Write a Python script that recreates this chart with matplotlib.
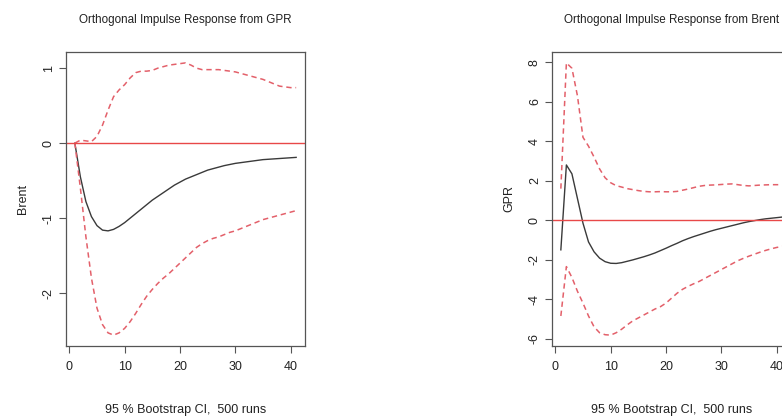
import matplotlib
matplotlib.use("Agg")
import matplotlib.pyplot as plt
import numpy as np

plt.rcParams['font.family'] = ['Liberation Sans', 'DejaVu Sans']

horizon = list(range(1, 42))

# Response of Brent to GPR shock
brent_irf = [0, -0.45, -0.78, -0.98, -1.10, -1.16, -1.17, -1.15, -1.11, -1.06,
             -1.00, -0.94, -0.88, -0.82, -0.76, -0.71, -0.66, -0.61, -0.56, -0.52,
             -0.48, -0.45, -0.42, -0.39, -0.36, -0.34, -0.32, -0.30, -0.285, -0.27,
             -0.26, -0.25, -0.24, -0.23, -0.22, -0.215, -0.21, -0.205, -0.20, -0.195, -0.19]
brent_upper = [0, 0.04, 0.03, 0.02, 0.09, 0.24, 0.44, 0.62, 0.71, 0.78,
               0.87, 0.94, 0.96, 0.96, 0.97, 1.00, 1.02, 1.04, 1.05, 1.06,
               1.07, 1.04, 1.00, 0.98, 0.98, 0.98, 0.98, 0.97, 0.96, 0.95,
               0.93, 0.91, 0.89, 0.87, 0.85, 0.82, 0.79, 0.76, 0.75, 0.74, 0.74]
brent_lower = [0, -0.6, -1.25, -1.8, -2.2, -2.42, -2.53, -2.56, -2.53, -2.47,
               -2.38, -2.27, -2.15, -2.04, -1.95, -1.87, -1.80, -1.74, -1.67, -1.60,
               -1.53, -1.46, -1.39, -1.34, -1.30, -1.27, -1.25, -1.22, -1.19, -1.17,
               -1.14, -1.11, -1.08, -1.05, -1.02, -1.00, -0.98, -0.96, -0.94, -0.92, -0.90]

# Response of GPR to Brent shock
gpr_irf = [-1.5, 2.8, 2.35, 1.1, -0.15, -1.1, -1.6, -1.92, -2.1, -2.18,
           -2.19, -2.15, -2.08, -2.01, -1.93, -1.85, -1.76, -1.66, -1.54, -1.42,
           -1.29, -1.17, -1.04, -0.93, -0.83, -0.74, -0.65, -0.56, -0.48, -0.41,
           -0.34, -0.27, -0.20, -0.13, -0.07, -0.02, 0.03, 0.07, 0.10, 0.13, 0.16]
gpr_upper = [1.6, 7.97, 7.7, 6.3, 4.2, 3.75, 3.2, 2.6, 2.15, 1.9,
             1.75, 1.68, 1.6, 1.55, 1.5, 1.46, 1.44, 1.44, 1.45, 1.44,
             1.44, 1.46, 1.52, 1.58, 1.65, 1.72, 1.76, 1.78, 1.79, 1.81,
             1.83, 1.84, 1.80, 1.76, 1.74, 1.76, 1.78, 1.79, 1.80, 1.80, 1.80]
gpr_lower = [-4.85, -2.35, -2.9, -3.6, -4.2, -4.85, -5.4, -5.7, -5.8, -5.82,
             -5.7, -5.52, -5.3, -5.1, -4.95, -4.8, -4.65, -4.5, -4.38, -4.2,
             -3.95, -3.7, -3.5, -3.35, -3.22, -3.1, -2.95, -2.8, -2.65, -2.5,
             -2.35, -2.2, -2.05, -1.93, -1.82, -1.72, -1.62, -1.53, -1.45, -1.38, -1.33]

panels = [
    dict(title="Orthogonal Impulse Response from GPR", ylabel="Brent",
         irf=brent_irf, upper=brent_upper, lower=brent_lower,
         yticks=[-2, -1, 0, 1], left=66),
    dict(title="Orthogonal Impulse Response from Brent", ylabel="GPR",
         irf=gpr_irf, upper=gpr_upper, lower=gpr_lower,
         yticks=[-6, -4, -2, 0, 2, 4, 6, 8], left=552),
]

W, H = 782, 416
fig = plt.figure(figsize=(W / 100, H / 100), dpi=100)

axcol = "#555555"
for p in panels:
    ax = fig.add_axes([p["left"] / W, (H - 346) / H, 239 / W, 294 / H])
    ax.plot(horizon, p["irf"], color="#3a3a3a", lw=1.0)
    ax.plot(horizon, p["upper"], color="#e3606a", lw=1.1, dashes=(3.5, 2.5))
    ax.plot(horizon, p["lower"], color="#e3606a", lw=1.1, dashes=(3.5, 2.5))
    ax.margins(x=0.04, y=0.04)
    ax.axhline(0, color="#e84848", lw=1.0)
    ax.set_xticks([0, 10, 20, 30, 40])
    ax.set_yticks(p["yticks"])
    ax.set_yticklabels([str(v) for v in p["yticks"]], rotation=90, va="center")
    ax.tick_params(axis="both", direction="out", length=5, width=0.8,
                   color=axcol, labelsize=9, labelcolor="#222222")
    ax.tick_params(axis="x", pad=6)
    ax.tick_params(axis="y", pad=3)
    for s in ax.spines.values():
        s.set_color(axcol)
        s.set_linewidth(0.9)
    ax.set_title(p["title"], fontsize=8.4, color="#222222", pad=21)
    ax.set_xlabel("95 % Bootstrap CI,  500 runs", fontsize=9, color="#222222", labelpad=22)
    ax.set_ylabel(p["ylabel"], fontsize=9, color="#222222", labelpad=10)

fig.savefig("out.png", dpi=100)
